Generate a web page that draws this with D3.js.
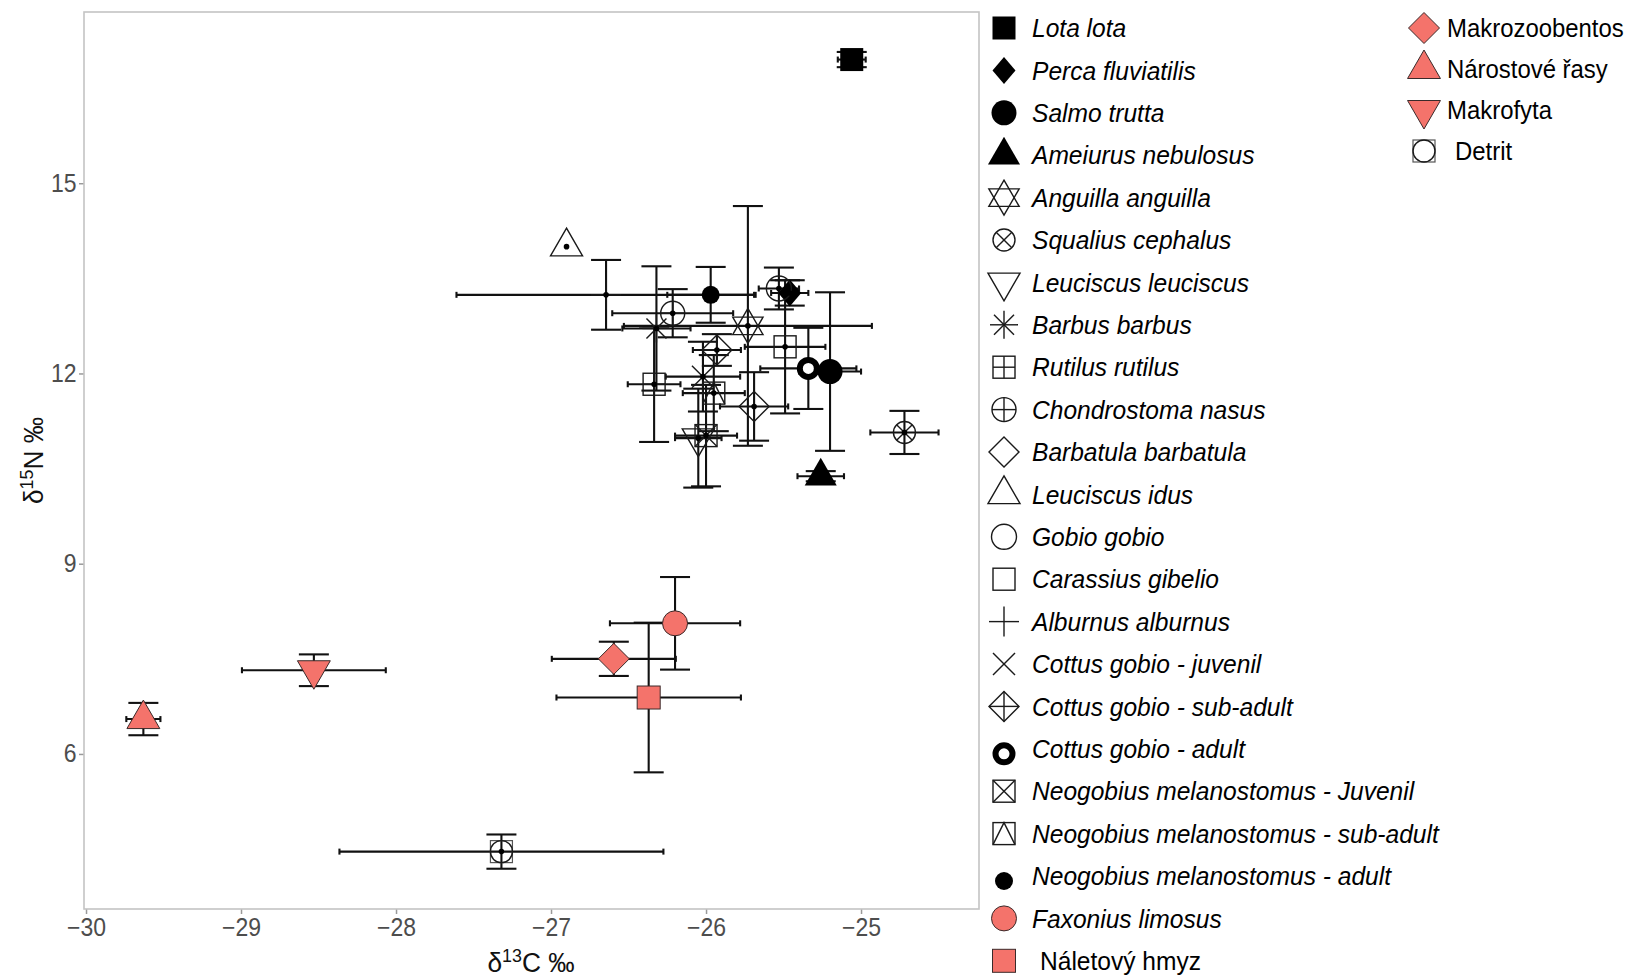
<!DOCTYPE html>
<html>
<head>
<meta charset="utf-8">
<script src="https://cdn.jsdelivr.net/npm/d3@7"></script>
<style>
  body { margin: 0; background: #fff; }
  svg { font-family: "Liberation Sans", Arial, sans-serif; }
</style>
</head>
<body>
<svg id="chart" width="1634" height="980"></svg>
<script>
// species (same order as legend), then the four diet sources
const species = [
  "Lota lota", "Perca fluviatilis", "Salmo trutta", "Ameiurus nebulosus",
  "Anguilla anguilla", "Squalius cephalus", "Leuciscus leuciscus", "Barbus barbus",
  "Rutilus rutilus", "Chondrostoma nasus", "Barbatula barbatula", "Leuciscus idus",
  "Gobio gobio", "Carassius gibelio", "Alburnus alburnus", "Cottus gobio - juvenil",
  "Cottus gobio - sub-adult", "Cottus gobio - adult", "Neogobius melanostomus - Juvenil",
  "Neogobius melanostomus - sub-adult", "Neogobius melanostomus - adult",
  "Faxonius limosus", "Náletový hmyz",
  "Makrozoobentos", "Nárostové řasy", "Makrofyta", "Detrit"
];
// mean d13C, mean d15N and their SDs
const d13C = [-25.06, -25.46, -25.20, -25.26, -25.73, -24.72, -26.05, -26.32,
  -26.335, -26.215, -25.69, -26.90, -25.53, -25.49, -26.645, -26.02,
  -25.93, -25.34, -26.00, -25.95, -25.97, -26.20, -26.37,
  -26.595, -29.63, -28.53, -27.32];
const d15N = [16.95, 13.27, 12.03, 10.38, 12.75, 11.07, 10.98, 12.71,
  11.83, 12.95, 11.48, 14.00, 13.34, 12.42, 13.24, 11.95,
  12.37, 12.08, 11.02, 11.69, 13.24, 8.06, 6.89,
  7.50, 6.55, 7.32, 4.46];
const sdC = [0.09, 0.12, 0.20, 0.15, 0.80, 0.22, 0.15, 0.22,
  0.17, 0.39, 0.22, 0, 0.13, 0.26, 0.965, 0.24,
  0.155, 0.31, 0.20, 0.20, 0.28, 0.42, 0.595,
  0.40, 0.11, 0.464, 1.045];
const sdN = [0.12, 0.20, 1.25, 0.08, 1.89, 0.34, 0.78, 0.98,
  0.91, 0.38, 0.54, 0, 0.33, 1.05, 0.55, 0.55,
  0.25, 0.64, 0.80, 0.60, 0.44, 0.73, 1.18,
  0.27, 0.255, 0.25, 0.27];

const xTicks = [-30, -29, -28, -27, -26, -25];
const yTicks = [6, 9, 12, 15];

// marker key for each species (style, not data)
const shapes = ["sqF", "diaF", "cirF", "triF", "hex", "cirX", "triD", "ast",
  "sqP", "cirP", "dia", "tri", "cir", "sq", "plus", "cross",
  "diaP", "ring", "sqX", "sqT", "dot", "cirR", "sqR",
  "diaR", "triR", "triDR", "sqC"];
const legendCol2 = ["Makrozoobentos", "Nárostové řasy", "Makrofyta", "Detrit"];

const red = "#f4736b";
const ink = "#1a1a1a";

const svg = d3.select("#chart");

const panel = { left: 84, right: 979, top: 12, bottom: 909 };

const x = d3.scaleLinear().domain([-30.013, -24.239]).range([panel.left, panel.right]);
const y = d3.scaleLinear().domain([3.555, 17.70]).range([panel.bottom, panel.top]);

// axes
const minus = d => (d < 0 ? "\u2212" + Math.abs(d) : "" + d);

const xAxis = svg.append("g")
  .attr("transform", `translate(0,${panel.bottom})`)
  .call(d3.axisBottom(x).tickValues(xTicks).tickSize(5).tickPadding(4).tickFormat(minus));
const yAxis = svg.append("g")
  .attr("transform", `translate(${panel.left},0)`)
  .call(d3.axisLeft(y).tickValues(yTicks).tickSize(5).tickPadding(3));

[xAxis, yAxis].forEach(a => {
  a.select(".domain").remove();
  a.selectAll(".tick line").attr("stroke", "#9a9a9a").attr("stroke-width", 1.5);
  a.selectAll(".tick text")
    .attr("fill", "#4d4d4d")
    .attr("transform", "scale(0.92,1)")
    .style("font-size", "25px")
    .style("font-family", "'Liberation Sans', Arial, sans-serif");
});

// panel border
svg.append("rect")
  .attr("x", panel.left).attr("y", panel.top)
  .attr("width", panel.right - panel.left)
  .attr("height", panel.bottom - panel.top)
  .attr("fill", "none")
  .attr("stroke", "#c4c4c4")
  .attr("stroke-width", 1.6);

// axis titles
const xt = svg.append("text")
  .attr("transform", "translate(531,972) scale(0.94,1)")
  .attr("text-anchor", "middle")
  .style("font-size", "28px")
  .attr("fill", "#111");
xt.append("tspan").text("δ");
xt.append("tspan").text("13").style("font-size", "19px").attr("dy", -10);
xt.append("tspan").text("C ‰").attr("dy", 10);

const yt = svg.append("text")
  .attr("transform", `translate(43,${(panel.top + panel.bottom) / 2}) rotate(-90) scale(0.94,1)`)
  .attr("text-anchor", "middle")
  .style("font-size", "28px")
  .attr("fill", "#111");
yt.append("tspan").text("δ");
yt.append("tspan").text("15").style("font-size", "19px").attr("dy", -10);
yt.append("tspan").text("N ‰").attr("dy", 10);

// marker drawing
const tri = (r, down) => {
  const k = down ? -1 : 1;
  const xc = r * 0.866;
  return `M0,${-k * r}L${xc},${k * r / 2}L${-xc},${k * r / 2}Z`;
};
const dia = (w, h) => `M0,${-h}L${w},0L0,${h}L${-w},0Z`;

function drawSymbol(g, key) {
  const open = sel => sel.attr("fill", "none").attr("stroke", ink).attr("stroke-width", 1.4);
  const line = (x1, y1, x2, y2) => open(g.append("line").attr("x1", x1).attr("y1", y1).attr("x2", x2).attr("y2", y2));
  const rect = (s) => g.append("rect").attr("x", -s / 2).attr("y", -s / 2).attr("width", s).attr("height", s);
  switch (key) {
    case "sqF": rect(23).attr("fill", "#000"); break;
    case "diaF": g.append("path").attr("d", dia(11.5, 13.5)).attr("fill", "#000"); break;
    case "cirF": g.append("circle").attr("r", 12.5).attr("fill", "#000"); break;
    case "triF": g.append("path").attr("d", tri(18.5)).attr("fill", "#000"); break;
    case "hex":
      open(g.append("path").attr("d", tri(17.5)));
      open(g.append("path").attr("d", tri(17.5, true)));
      break;
    case "cirX":
      open(g.append("circle").attr("r", 11));
      line(-7.8, -7.8, 7.8, 7.8); line(-7.8, 7.8, 7.8, -7.8);
      break;
    case "triD": open(g.append("path").attr("d", tri(18.5, true))); break;
    case "ast":
      line(0, -14, 0, 14); line(-14, 0, 14, 0);
      line(-10, -10, 10, 10); line(-10, 10, 10, -10);
      break;
    case "sqP":
      open(rect(22)); line(0, -11, 0, 11); line(-11, 0, 11, 0);
      break;
    case "cirP":
      open(g.append("circle").attr("r", 12)); line(0, -12, 0, 12); line(-12, 0, 12, 0);
      break;
    case "dia": open(g.append("path").attr("d", dia(15, 15))); break;
    case "tri": open(g.append("path").attr("d", tri(18.5))); break;
    case "cir": open(g.append("circle").attr("r", 12.5)); break;
    case "sq": open(rect(22)); break;
    case "plus": line(0, -15, 0, 15); line(-15, 0, 15, 0); break;
    case "cross": line(-11, -11, 11, 11); line(-11, 11, 11, -11); break;
    case "diaP":
      open(g.append("path").attr("d", dia(15, 15)));
      line(0, -15, 0, 15); line(-15, 0, 15, 0);
      break;
    case "ring":
      g.append("circle").attr("r", 8.5).attr("fill", "#fff").attr("stroke", "#000").attr("stroke-width", 6);
      break;
    case "sqX":
      open(rect(22)); line(-11, -11, 11, 11); line(-11, 11, 11, -11);
      break;
    case "sqT":
      open(rect(22));
      open(g.append("path").attr("d", "M-11,11L0,-11L11,11"));
      break;
    case "dot": g.append("circle").attr("r", 9).attr("fill", "#000"); break;
    case "cirR":
      g.append("circle").attr("r", 12.5).attr("fill", red).attr("stroke", "#3a2a2a").attr("stroke-width", 1);
      break;
    case "sqR":
      rect(23).attr("fill", red).attr("stroke", "#3a2a2a").attr("stroke-width", 1);
      break;
    case "diaR":
      g.append("path").attr("d", dia(15.5, 15.5)).attr("fill", red).attr("stroke", "#3a2a2a").attr("stroke-width", 1);
      break;
    case "triR":
      g.append("path").attr("d", tri(19)).attr("fill", red).attr("stroke", "#3a2a2a").attr("stroke-width", 1);
      break;
    case "triDR":
      g.append("path").attr("d", tri(19, true)).attr("fill", red).attr("stroke", "#3a2a2a").attr("stroke-width", 1);
      break;
    case "sqC":
      rect(22).attr("fill", "none").attr("stroke", "#555").attr("stroke-width", 1.2);
      open(g.append("circle").attr("r", 11));
      break;
  }
}

const data = species.map((name, i) => ({
  name, c: d13C[i], n: d15N[i], sc: sdC[i], sn: sdN[i], shape: shapes[i]
}));

const plot = svg.append("g");

// error bars
const bars = plot.append("g")
  .attr("stroke", "#111")
  .attr("stroke-width", 2.1);

const cap = 15;
const hcap = 3;
data.filter(d => d.sn > 0).forEach(d => {
  const cx = x(d.c);
  bars.append("line").attr("x1", cx).attr("x2", cx).attr("y1", y(d.n - d.sn)).attr("y2", y(d.n + d.sn));
  bars.append("line").attr("x1", cx - cap).attr("x2", cx + cap).attr("y1", y(d.n - d.sn)).attr("y2", y(d.n - d.sn));
  bars.append("line").attr("x1", cx - cap).attr("x2", cx + cap).attr("y1", y(d.n + d.sn)).attr("y2", y(d.n + d.sn));
});
data.filter(d => d.sc > 0).forEach(d => {
  const cy = y(d.n);
  bars.append("line").attr("x1", x(d.c - d.sc)).attr("x2", x(d.c + d.sc)).attr("y1", cy).attr("y2", cy);
  bars.append("line").attr("x1", x(d.c - d.sc)).attr("x2", x(d.c - d.sc)).attr("y1", cy - hcap).attr("y2", cy + hcap);
  bars.append("line").attr("x1", x(d.c + d.sc)).attr("x2", x(d.c + d.sc)).attr("y1", cy - hcap).attr("y2", cy + hcap);
});

// markers
plot.selectAll("g.pt")
  .data(data)
  .join("g")
  .attr("class", "pt")
  .attr("transform", d => `translate(${x(d.c)},${y(d.n)})`)
  .each(function (d) { drawSymbol(d3.select(this), d.shape); });

// small mean dots on the fish / detritus points
const noDot = ["cirR", "sqR", "diaR", "triR", "triDR", "ring"];
plot.selectAll("circle.mean")
  .data(data.filter(d => !noDot.includes(d.shape)))
  .join("circle")
  .attr("class", "mean")
  .attr("cx", d => x(d.c))
  .attr("cy", d => y(d.n))
  .attr("r", 2.8)
  .attr("fill", "#000");

// legend
const legend = svg.append("g").style("font-size", "26px");
const col1 = data.filter(d => !legendCol2.includes(d.name));
const col2 = data.filter(d => legendCol2.includes(d.name));

col1.forEach((d, i) => {
  const row = legend.append("g").attr("transform", `translate(1004,${28 + i * 42.4})`);
  // the ring and the small dot sit a little lower in the key
  const sym = row.append("g")
    .attr("transform", d.shape === "ring" || d.shape === "dot" ? "translate(0,5)" : null);
  drawSymbol(sym, d.shape);
  const tx = d.name === "Náletový hmyz" ? 36 : 28;
  row.append("text")
    .attr("transform", `translate(${tx},0) scale(0.945,1)`)
    .attr("dy", "0.35em")
    .style("font-style", d.name === "Náletový hmyz" ? "normal" : "italic")
    .text(d.name);
});
col2.forEach((d, i) => {
  const row = legend.append("g").attr("transform", `translate(1424,${28 + i * 41})`);
  drawSymbol(row, d.shape);
  const tx = d.name === "Detrit" ? 31 : 23;
  row.append("text")
    .attr("transform", `translate(${tx},0) scale(0.92,1)`)
    .attr("dy", "0.35em")
    .text(d.name);
});
</script>
</body>
</html>
